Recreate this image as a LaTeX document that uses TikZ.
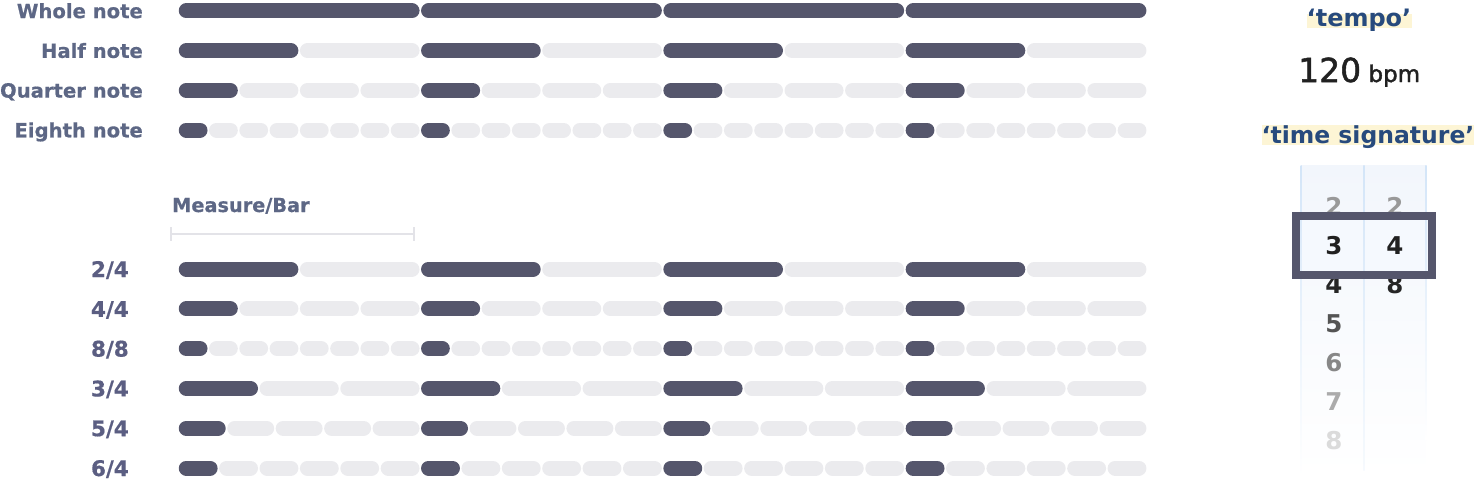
\documentclass[tikz,border=0pt]{standalone}
\usepackage{fontspec}
\setmainfont{DejaVu Sans}
\newfontfamily\heavyfont[FakeBold=0.6]{DejaVu Sans Bold}
\newfontfamily\semifont[FakeBold=1.6]{DejaVu Sans}
\definecolor{dark}{HTML}{55566C}
\definecolor{light}{HTML}{EBEBEE}
\definecolor{lab}{HTML}{5D6785}
\definecolor{labb}{HTML}{5B5E82}
\definecolor{hl}{HTML}{FDF5D5}
\definecolor{navy}{HTML}{274A7D}
\definecolor{pickline}{HTML}{D3E5F8}
\definecolor{pickbg}{HTML}{F2F6FC}
\definecolor{framebg}{HTML}{F5F9FE}
\definecolor{brk}{HTML}{E3E3E8}
\tikzset{
  seg/.style={line width=15pt,line cap=round},
  lbl/.style={font=\fontsize{19.6}{24}\heavyfont,text=lab,inner sep=0pt,anchor=base east},
  lblb/.style={font=\fontsize{21.5}{24}\heavyfont,text=labb,inner sep=0pt,anchor=base east},
  num/.style={font=\fontsize{24.5}{28}\selectfont\bfseries,inner sep=0pt,anchor=base},
  hdr/.style={text=navy,inner sep=0pt,anchor=base},
}
\newcommand\barrow[2]{%
  \foreach \m in {0,...,3}{%
    \foreach \k in {1,...,#2}{%
      \pgfmathsetmacro\xa{178+\m*242.3+(\k-1)*242.3/#2+0.75+7.5}%
      \pgfmathsetmacro\xb{178+\m*242.3+\k*242.3/#2-0.75-7.5}%
      \ifnum\k=1 \def\segcol{dark}\else\def\segcol{light}\fi
      \draw[seg,\segcol] (\xa,#1) -- (\xb,#1);
    }}}
\begin{document}
\begin{tikzpicture}[x=1pt,y=-1pt]
\useasboundingbox (0,0) rectangle (1476,479);
% top section
\barrow{10.8}{1}
\barrow{50.6}{2}
\barrow{90.3}{4}
\barrow{130}{8}
\node[lbl] (whole) at (143,18.1) {Whole note};
\node[lbl] (half) at (143,57.9) {Half note};
\node[lbl] (quarter) at (143,97.6) {Quarter note};
\node[lbl] (eighth) at (143,137.3) {Eighth note};
% measure bracket
\node[font=\fontsize{19.3}{24}\heavyfont,text=lab,inner sep=0pt,anchor=base west] (measure) at (172,212) {Measure/Bar};
\coordinate (bl) at (171,234.3);
\coordinate (br) at (414,234.3);
\draw[brk,line width=2.2pt] (bl) -- (br);
\draw[brk,line width=2.5pt] ([yshift=7pt]bl) -- ([yshift=-7pt]bl);
\draw[brk,line width=2.5pt] ([yshift=7pt]br) -- ([yshift=-7pt]br);
% bottom section
\barrow{269}{2}
\barrow{308.8}{4}
\barrow{348.6}{8}
\barrow{388.4}{3}
\barrow{428.2}{5}
\barrow{468}{6}
\node[lblb] (t24) at (129,277) {2/4};
\node[lblb] (t44) at (129,316.8) {4/4};
\node[lblb] (t88) at (129,356.6) {8/8};
\node[lblb] (t34) at (129,396.4) {3/4};
\node[lblb] (t54) at (129,436.2) {5/4};
\node[lblb] (t64) at (129,476) {6/4};
% tempo
\fill[hl] (1307,14) rectangle (1412,28);
\node[hdr,font=\fontsize{24}{28}\selectfont\bfseries] (tempo) at (1359,26.7) {‘tempo’};
\node[inner sep=0pt,anchor=base west,text=black!87] (bpm) at (1298,82)
  {\fontsize{33}{36}\semifont 120\fontsize{23}{26}\selectfont\ bpm};
% time signature
\fill[hl] (1262,125) rectangle (1474,145);
\node[hdr,font=\fontsize{23.5}{28}\selectfont\bfseries] (ts) at (1368,143) {‘time signature’};
% picker
\shade[top color=pickbg,bottom color=white] (1301,165) rectangle (1426,475);
\fill[framebg] (1295.7,215.7) rectangle (1431.7,275);
\shade[top color=pickline,bottom color=white] (1300.5,165) rectangle (1301.7,476);
\shade[top color=pickline,bottom color=white!80!pickline] (1363.4,165) rectangle (1364.6,470);
\shade[top color=pickline,bottom color=white] (1425.4,165) rectangle (1426.6,440);
\node[num,text=black!40] (l2) at (1334,215.5) {2};
\node[num,text=black!87] (l3) at (1334,254.5) {3};
\node[num,text=black!85] (l4) at (1334,293.5) {4};
\node[num,text=black!67] (l5) at (1334,332.5) {5};
\node[num,text=black!47] (l6) at (1334,371.5) {6};
\node[num,text=black!33] (l7) at (1334,410.5) {7};
\node[num,text=black!14] (l8) at (1334,449.5) {8};
\node[num,text=black!40] (r2) at (1395,215.5) {2};
\node[num,text=black!87] (r4) at (1395,254.5) {4};
\node[num,text=black!85] (r8) at (1395,293.5) {8};
\draw[dark,line width=8pt] (1295.7,215.7) rectangle (1431.7,275);
\end{tikzpicture}
\end{document}
